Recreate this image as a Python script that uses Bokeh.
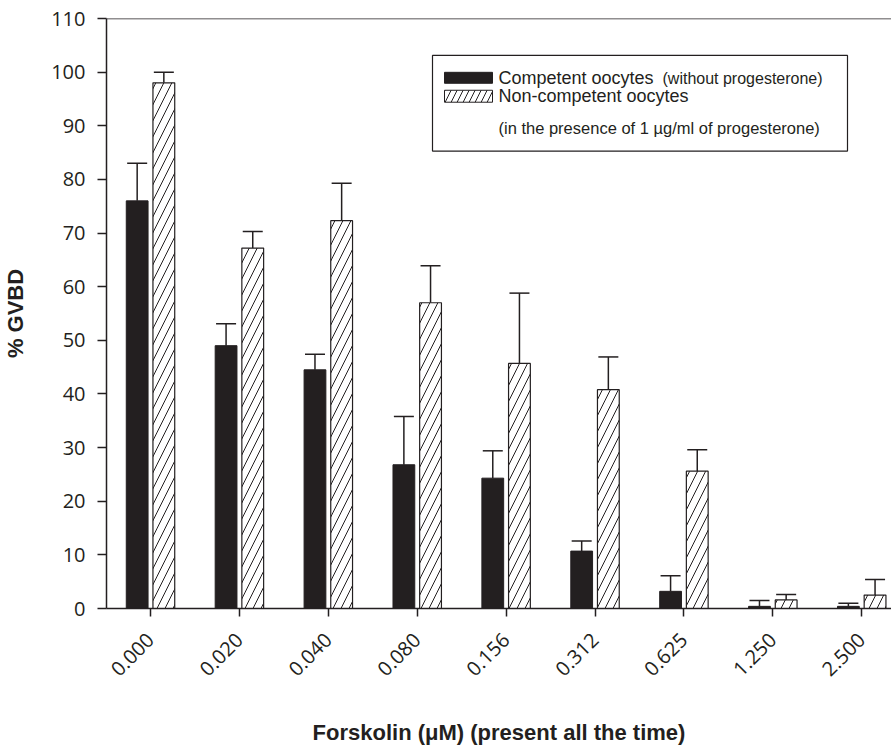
import math
from bokeh.plotting import figure
from bokeh.models import (Range1d, Whisker, TeeHead, ColumnDataSource, Span,
                          BoxAnnotation, Label, FixedTicker)
from bokeh.transform import dodge
from bokeh.embed import file_html
from bokeh.resources import INLINE

# ---- data ----
concentrations = ["0.000", "0.020", "0.040", "0.080", "0.156",
                  "0.312", "0.625", "1.250", "2.500"]
competent = [76.0, 49.0, 44.5, 26.8, 24.3, 10.7, 3.2, 0.4, 0.4]
competent_err = [7.0, 4.1, 2.9, 9.0, 5.1, 1.9, 2.9, 1.1, 0.6]
noncompetent = [98.0, 67.2, 72.3, 57.0, 45.7, 40.8, 25.6, 1.6, 2.5]
noncompetent_err = [2.0, 3.1, 7.0, 6.9, 13.1, 6.1, 4.0, 1.0, 2.9]
y_ticks = list(range(0, 111, 10))

INK = "#231f20"
TICK_FONT = "Open Sans"
TEXT_FONT = "Liberation Sans"

W, H = 891, 748
FL, FR, FT, FB = 106, 0, 18, 138          # borders around the frame
X0, X1 = -0.495, 8.335
Y0, Y1 = 0, 110

p = figure(width=W, height=H, output_backend="svg", toolbar_location=None,
           x_range=Range1d(X0, X1), y_range=Range1d(Y0, Y1),
           min_border_left=FL, min_border_right=FR,
           min_border_top=FT, min_border_bottom=FB)
p.outline_line_color = None
p.xgrid.visible = False
p.ygrid.visible = False
p.background_fill_color = "white"
p.border_fill_color = "white"

idx = list(range(len(concentrations)))
src = ColumnDataSource(dict(
    x=idx,
    comp=competent,
    comp_hi=[v + e for v, e in zip(competent, competent_err)],
    non=noncompetent,
    non_hi=[v + e for v, e in zip(noncompetent, noncompetent_err)],
))

OFF = 0.15
BW = 0.245
p.vbar(x=dodge("x", -OFF), top="comp", width=BW, source=src,
       fill_color=INK, line_color=INK, line_width=1)
p.vbar(x=dodge("x", OFF), top="non", width=BW, source=src,
       fill_color="white", line_color=INK, line_width=1.2,
       hatch_pattern="/", hatch_color=INK, hatch_scale=16, hatch_weight=1)

for col_lo, col_hi, off in (("comp", "comp_hi", -OFF), ("non", "non_hi", OFF)):
    w = Whisker(source=src, base=dodge("x", off), lower=col_lo, upper=col_hi,
                line_color=INK, line_width=1.5, lower_head=None,
                upper_head=TeeHead(size=20, line_color=INK, line_width=1.5))
    p.add_layout(w)

# top frame line
p.add_layout(Span(location=Y1, dimension="width", line_color=INK, line_width=1.5))

# ---- axes ----
for ax in (p.xaxis, p.yaxis):
    ax.axis_line_color = INK
    ax.axis_line_width = 1.5
    ax.major_tick_line_color = INK
    ax.major_tick_line_width = 1.5
    ax.major_tick_in = 0
    ax.minor_tick_line_color = None
    ax.major_label_text_font = TICK_FONT
    ax.major_label_text_font_size = "20px"
    ax.major_label_text_color = INK
    ax.axis_label_text_font = TEXT_FONT
    ax.axis_label_text_font_style = "bold"
    ax.axis_label_text_color = INK

p.yaxis.ticker = FixedTicker(ticks=y_ticks)
p.yaxis.major_tick_out = 9
p.yaxis.major_label_standoff = 12
p.yaxis.axis_label = "% GVBD"
p.yaxis.axis_label_text_font_size = "22px"
p.yaxis.axis_label_standoff = 20

p.xaxis.ticker = FixedTicker(ticks=idx)
p.xaxis.major_label_overrides = {i: c for i, c in zip(idx, concentrations)}
p.xaxis.major_label_orientation = math.pi / 4
p.xaxis.major_tick_out = 8
p.xaxis.major_label_standoff = 20
p.xaxis.axis_label = "Forskolin (\u03bcM) (present all the time)"
p.xaxis.axis_label_text_font_size = "22px"
p.xaxis.axis_label_standoff = 35

# ---- legend (drawn by hand to allow mixed font sizes) ----
FW = W - FL - FR
FH = H - FT - FB


def dx(px):
    return X0 + (px - FL) / FW * (X1 - X0)


def dy(py):
    return Y1 - (py - FT) / FH * (Y1 - Y0)


p.add_layout(BoxAnnotation(left=dx(432), right=dx(847), top=dy(55), bottom=dy(151),
                           fill_color="white", fill_alpha=1,
                           line_color=INK, line_width=1.2, line_alpha=1))
p.add_layout(BoxAnnotation(left=dx(444), right=dx(492), top=dy(72), bottom=dy(83),
                           fill_color=INK, fill_alpha=1, line_color=INK, line_alpha=1,
                           line_width=1))
p.add_layout(BoxAnnotation(left=dx(444), right=dx(492), top=dy(90), bottom=dy(102),
                           fill_color="white", fill_alpha=1, line_color=INK, line_alpha=1,
                           line_width=1, hatch_pattern="/", hatch_color=INK,
                           hatch_scale=12, hatch_weight=1))

legend_texts = [
    ("Competent oocytes", 498, 78, "18px"),
    ("(without progesterone)", 662, 78, "16px"),
    ("Non-competent oocytes", 498, 96, "18px"),
    ("(in the presence of 1 \u00b5g/ml of progesterone)", 498, 128, "16.5px"),
]
for txt, px, py, fs in legend_texts:
    p.add_layout(Label(x=dx(px), y=dy(py), text=txt, text_font=TEXT_FONT,
                       text_font_size=fs, text_color=INK,
                       text_baseline="alphabetic", text_align="left"))

open("out.html", "w").write(file_html(p, INLINE))
